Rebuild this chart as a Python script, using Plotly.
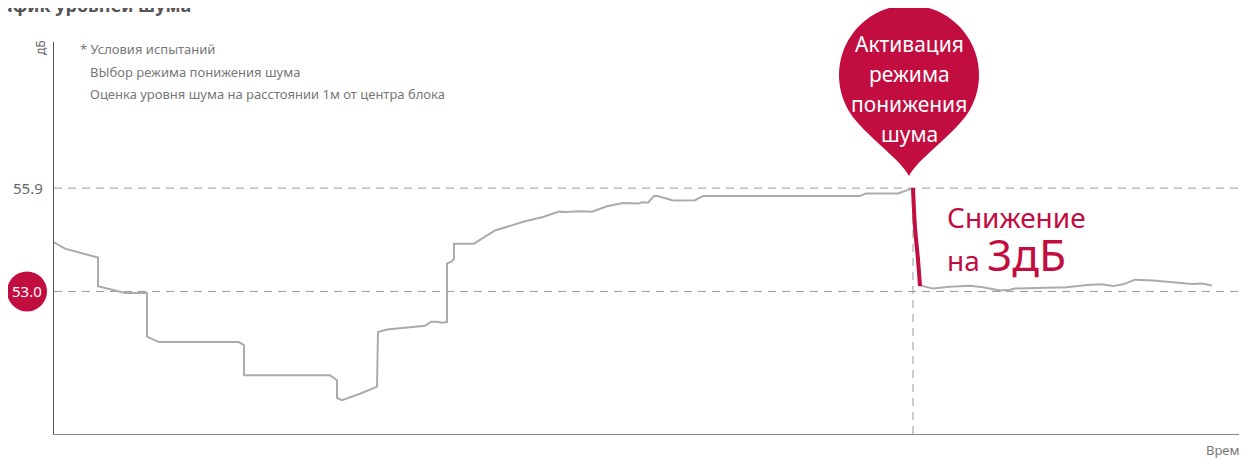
import numpy as np
import plotly.graph_objects as go

# time (arbitrary units) and noise level (dB)
t_before = [0.0, 1.1, 4.4, 4.4, 7.1, 9.3, 9.3, 10.5, 18.5, 19.0, 19.0, 27.6, 28.3, 28.3,
            28.8, 30.6, 32.3, 32.4, 33.3, 37.1, 37.7, 38.3, 38.8, 39.3, 39.3, 39.8, 40.0,
            40.0, 42.0, 44.1, 47.1, 48.9, 50.5, 51.1, 52.6, 53.8, 55.3, 56.9, 58.5, 58.8,
            59.4, 60.0, 60.4, 61.8, 62.6, 64.1, 64.9, 66.6, 80.6, 81.2, 84.4, 85.4, 85.9]
db_before = [54.38, 54.20, 53.95, 53.15, 52.96, 52.96, 51.73, 51.58, 51.58, 51.49, 50.65,
             50.65, 50.51, 50.01, 49.95, 50.13, 50.33, 51.86, 51.93, 52.04, 52.15, 52.15,
             52.12, 52.14, 53.78, 53.85, 53.92, 54.34, 54.34, 54.71, 54.97, 55.09, 55.24,
             55.23, 55.25, 55.24, 55.39, 55.48, 55.47, 55.50, 55.49, 55.68, 55.68, 55.56,
             55.55, 55.56, 55.68, 55.68, 55.68, 55.75, 55.75, 55.85, 55.90]

t_drop = [85.9, 86.1, 86.4, 86.6]
db_drop = [55.90, 54.80, 53.90, 53.15]

t_after = [86.6, 87.9, 89.6, 91.6, 92.9, 94.6, 95.6, 96.1, 101.3, 103.3, 104.8, 105.9,
           106.9, 108.1, 109.9, 112.3, 113.8, 114.8, 115.8]
db_after = [53.17, 53.08, 53.13, 53.16, 53.12, 53.03, 53.05, 53.08, 53.12, 53.18, 53.20,
            53.15, 53.20, 53.33, 53.31, 53.26, 53.21, 53.22, 53.17]

level_before = 55.9
level_after = 53.0
t_activation = 85.9
y_range = [49, 60]
x_range = [0, 119.3]

pin_lines = ["Активация", "режима", "понижения", "шума"]
note_lines = ["* Условия испытаний", "ВЫбор режима понижения шума",
              "Оценка уровня шума на расстоянии 1м от центра блока"]

RED = "#c20d40"
GRAY_LINE = "#ababab"
DASH = "#9a9a9a"
FONT = "Noto Sans"

fig = go.Figure()
fig.add_trace(go.Scatter(x=t_before, y=db_before, mode="lines",
                         line=dict(color=GRAY_LINE, width=2), hoverinfo="skip"))
fig.add_trace(go.Scatter(x=t_after, y=db_after, mode="lines",
                         line=dict(color=GRAY_LINE, width=2), hoverinfo="skip"))
fig.add_trace(go.Scatter(x=t_drop, y=db_drop, mode="lines",
                         line=dict(color=RED, width=4, shape="spline"), hoverinfo="skip"))

# dashed reference lines
for lvl in (level_before, level_after):
    fig.add_shape(type="line", xref="paper", x0=0, x1=1, yref="y", y0=lvl, y1=lvl,
                  line=dict(color=DASH, width=1, dash="8px,6px"), layer="below")
fig.add_shape(type="line", xref="x", x0=t_activation, x1=t_activation,
              yref="y", y0=y_range[0], y1=level_before,
              line=dict(color=DASH, width=1, dash="8px,6px"), layer="below")

# teardrop pin (pixel offsets from the activation point)
pin_anchor = (level_before - y_range[0]) / (y_range[1] - y_range[0])
cx, cy, r = -4, 113, 70
a0 = np.radians(-38)
ang = np.linspace(a0, np.pi - a0, 80)
px = cx + r * np.cos(ang)
py = cy + r * np.sin(ang)
tip = (cx, 12)
tr = (-np.sin(a0), np.cos(a0))
path = f"M{tip[0]},{tip[1]} C{tip[0] + 6},{tip[1] + 14} {px[0] - 24 * tr[0]:.2f},{py[0] - 24 * tr[1]:.2f} {px[0]:.2f},{py[0]:.2f}"
for x_, y_ in zip(px[1:], py[1:]):
    path += f" L{x_:.2f},{y_:.2f}"
path += f" C{px[-1] + 24 * tr[0]:.2f},{py[-1] - 24 * tr[1]:.2f} {tip[0] - 6},{tip[1] + 14} {tip[0]},{tip[1]} Z"
fig.add_shape(type="path", path=path, xsizemode="pixel", ysizemode="pixel",
              xanchor=t_activation, yanchor=pin_anchor, xref="x", yref="paper",
              fillcolor=RED, line=dict(width=0))

for i, txt in enumerate(pin_lines):
    fig.add_annotation(x=t_activation, y=level_before, xref="x", yref="y", text=txt,
                       showarrow=False, xanchor="center", yanchor="middle",
                       xshift=-4, yshift=144 - i * 30,
                       font=dict(family=FONT, size=21, color="white"))

fig.add_annotation(x=t_activation, y=level_before, xref="x", yref="y", text="Снижение",
                   showarrow=False, xanchor="left", yanchor="middle", xshift=32, yshift=-29,
                   font=dict(family=FONT, size=28, color=RED))
fig.add_annotation(x=t_activation, y=level_before, xref="x", yref="y",
                   text="на <span style='font-size:44px'>3дБ</span>",
                   showarrow=False, xanchor="left", yanchor="middle", xshift=32, yshift=-66,
                   font=dict(family=FONT, size=28, color=RED))

# 53.0 badge
fig.add_shape(type="circle", xref="paper", yref="y", xsizemode="pixel", ysizemode="pixel",
              xanchor=0, yanchor=level_after, x0=-47, x1=-7, y0=-20, y1=20,
              fillcolor=RED, line=dict(width=0))
fig.add_annotation(xref="paper", yref="y", x=0, y=level_after, text=f"{level_after:.1f}",
                   showarrow=False, xanchor="center", yanchor="middle", xshift=-27,
                   font=dict(family=FONT, size=15, color="white"))
fig.add_annotation(xref="paper", yref="y", x=0, y=level_before, text=f"{level_before:.1f}",
                   showarrow=False, xanchor="right", yanchor="middle", xshift=-9,
                   font=dict(family=FONT, size=15, color="#666"))

# notes
for i, (txt, dx) in enumerate(zip(note_lines, [24, 34, 34])):
    fig.add_annotation(xref="paper", yref="paper", x=0, y=1, text=txt, showarrow=False,
                       xanchor="left", yanchor="middle", xshift=dx, yshift=-7 - i * 22.5,
                       font=dict(family=FONT, size=13, color="#777"))

fig.add_annotation(xref="paper", yref="paper", x=0, y=1, text="дБ", showarrow=False,
                   textangle=-90, xanchor="center", yanchor="middle", xshift=-14, yshift=-6,
                   font=dict(family=FONT, size=12, color="#666"))
fig.add_annotation(xref="paper", yref="paper", x=1, y=0, text="Время", showarrow=False,
                   xanchor="left", yanchor="middle", xshift=-43, yshift=-16,
                   font=dict(family=FONT, size=13, color="#777"))
fig.add_annotation(xref="paper", yref="paper", x=(193 - 54) / 1193, y=1,
                   text="<b>График уровней шума</b>", showarrow=False,
                   xanchor="right", yanchor="middle", yshift=37,
                   font=dict(family=FONT, size=18, color="#555"))

fig.update_xaxes(range=x_range, showgrid=False, zeroline=False, showticklabels=False,
                 showline=True, linecolor="#8a8a8a", linewidth=1, ticks="")
fig.update_yaxes(range=y_range, showgrid=False, zeroline=False, showticklabels=False,
                 showline=True, linecolor="#555", linewidth=1, ticks="")
# the page body adds an 8px offset, so the margins are reduced by that amount
fig.update_layout(width=1247, height=458, autosize=False, showlegend=False,
                  margin=dict(l=46, r=8, t=34, b=32),
                  paper_bgcolor="white", plot_bgcolor="white",
                  font=dict(family=FONT))

fig.write_html("out.html")
